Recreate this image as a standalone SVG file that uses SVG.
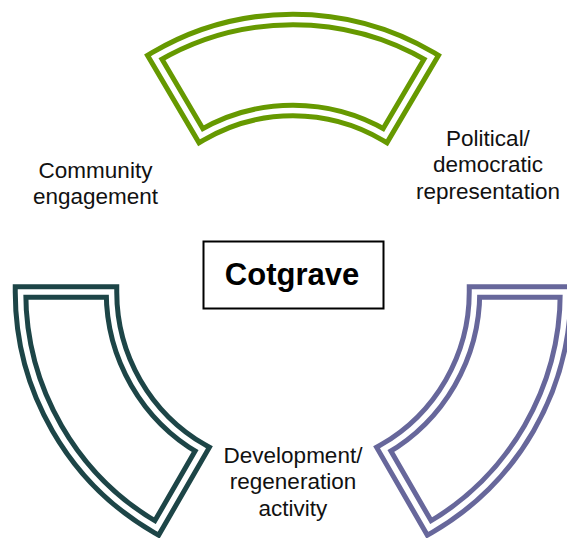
<svg xmlns="http://www.w3.org/2000/svg" xmlns:xlink="http://www.w3.org/1999/xlink" width="567" height="538" viewBox="0 0 567 538">
  <style>
    .label { font-family: "Liberation Sans", Arial, sans-serif; font-size: 22.5px; fill: #111; text-anchor: middle; }
    .title { font-family: "Liberation Sans", Arial, sans-serif; font-size: 31px; font-weight: bold; fill: #000; text-anchor: middle; }
    .band { fill: #fff; stroke-width: 15.5; stroke-linejoin: miter; stroke-miterlimit: 10; }
    .gap { fill: none; stroke: #fff; stroke-width: 5.5; stroke-linejoin: miter; stroke-miterlimit: 10; }
  </style>
  <defs>
    <!-- block arcs around centre (293,292), outer r 272.5, inner r 181.5 -->
    <path id="arc-top" d="M154.7,57.2 A272.5,272.5 0 0 1 431.3,57.2 L385.1,135.6 A181.5,181.5 0 0 0 200.9,135.6 Z"/>
    <path id="arc-left" d="M20.5,292 L111.5,292 A181.5,181.5 0 0 0 202.25,449.2 L156.75,528 A272.5,272.5 0 0 1 20.5,292 Z"/>
    <path id="arc-right" d="M474.5,292 L565.5,292 A272.5,272.5 0 0 1 429.25,528 L383.75,449.2 A181.5,181.5 0 0 0 474.5,292 Z"/>
  </defs>

  <rect width="567" height="538" fill="#fff"/>

  <!-- double-line block arcs -->
  <g id="arc-green">
    <use xlink:href="#arc-top" class="band" stroke="#669900"/>
    <use xlink:href="#arc-top" class="gap"/>
  </g>
  <g id="arc-teal">
    <use xlink:href="#arc-left" class="band" stroke="#1d4547"/>
    <use xlink:href="#arc-left" class="gap"/>
  </g>
  <g id="arc-purple">
    <use xlink:href="#arc-right" class="band" stroke="#67679b"/>
    <use xlink:href="#arc-right" class="gap"/>
  </g>

  <!-- centre box -->
  <g id="center">
    <rect x="203.5" y="241.5" width="180" height="67" fill="#fff" stroke="#000" stroke-width="2"/>
    <text class="title" x="292" y="284.5">Cotgrave</text>
  </g>

  <!-- labels -->
  <g id="community">
    <text class="label" x="95.5" y="177.5">Community</text>
    <text class="label" x="95.5" y="204">engagement</text>
  </g>
  <g id="political">
    <text class="label" x="488" y="145.5">Political/</text>
    <text class="label" x="488" y="172">democratic</text>
    <text class="label" x="488" y="198.5">representation</text>
  </g>
  <g id="development">
    <text class="label" x="293" y="462.5">Development/</text>
    <text class="label" x="293" y="489">regeneration</text>
    <text class="label" x="293" y="515.5">activity</text>
  </g>
</svg>
